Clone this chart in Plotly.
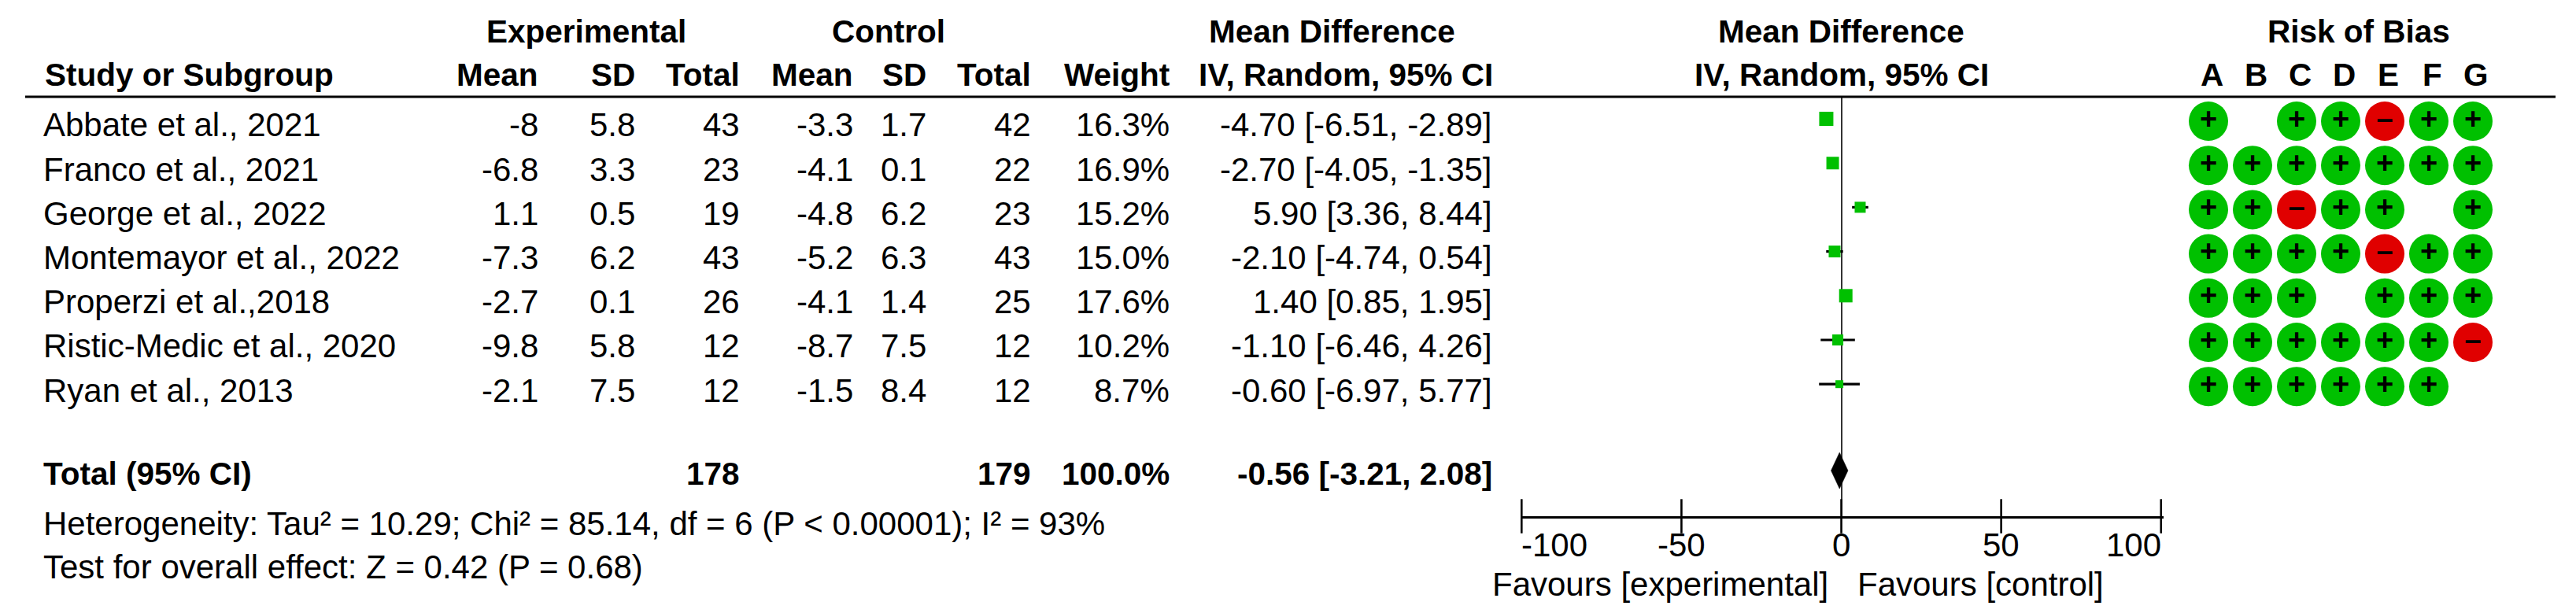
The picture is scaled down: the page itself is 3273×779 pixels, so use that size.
import plotly.graph_objects as go

# ---------- data ----------
studies = ["Abbate et al., 2021", "Franco et al., 2021", "George et al., 2022",
           "Montemayor et al., 2022", "Properzi et al.,2018",
           "Ristic-Medic et al., 2020", "Ryan et al., 2013"]
exp_mean = ["-8", "-6.8", "1.1", "-7.3", "-2.7", "-9.8", "-2.1"]
exp_sd = ["5.8", "3.3", "0.5", "6.2", "0.1", "5.8", "7.5"]
exp_total = ["43", "23", "19", "43", "26", "12", "12"]
ctl_mean = ["-3.3", "-4.1", "-4.8", "-5.2", "-4.1", "-8.7", "-1.5"]
ctl_sd = ["1.7", "0.1", "6.2", "6.3", "1.4", "7.5", "8.4"]
ctl_total = ["42", "22", "23", "43", "25", "12", "12"]
weights = ["16.3%", "16.9%", "15.2%", "15.0%", "17.6%", "10.2%", "8.7%"]
md = [-4.70, -2.70, 5.90, -2.10, 1.40, -1.10, -0.60]
ci_low = [-6.51, -4.05, 3.36, -4.74, 0.85, -6.46, -6.97]
ci_high = [-2.89, -1.35, 8.44, 0.54, 1.95, 4.26, 5.77]
total_md = -0.56
total_low = -3.21
total_high = 2.08
total_exp = "178"
total_ctl = "179"
total_weight = "100.0%"
heterogeneity = "Heterogeneity: Tau² = 10.29; Chi² = 85.14, df = 6 (P < 0.00001); I² = 93%"
overall = "Test for overall effect: Z = 0.42 (P = 0.68)"
axis_ticks = [-100, -50, 0, 50, 100]
axis_labels = ["-100", "-50", "0", "50", "100"]
bias_domains = ["A", "B", "C", "D", "E", "F", "G"]
bias = ["+ ++-++", "+++++++", "++-++ +", "++++-++", "+++ +++", "++++++-", "++++++ "]

# ---------- layout helpers ----------
W, H = 3273, 779
FONT = "Liberation Sans"
FS = 42
FS_BOLD = 40.5
GREEN, RED = "#00C000", "#E00000"
ROW0, ROWH = 151.0, 56.2
TOP, AXIS_Y = 123.0, 656.0
TOTAL_ROW = (598 - ROW0) / ROWH
square_px = [18, 16, 14, 15, 17, 14, 10]


def px(x):
    return x / W


def py(y):
    return 1 - y / H


anns = []


def text(s, x, y, anchor="left", bold=False, xref="paper", yref="paper", xshift=0):
    anns.append(dict(text=f"<b>{s}</b>" if bold else s, x=px(x) if xref == "paper" else x,
                     y=py(y) if yref == "paper" else y, xref=xref, yref=yref,
                     xanchor=anchor, yanchor="middle", showarrow=False, xshift=xshift,
                     font=dict(family=FONT, size=FS_BOLD if bold else FS, color="black"),
                     borderpad=0, borderwidth=0))


HDR1, HDR2 = 40, 95
text("Experimental", 745, HDR1, "center", True)
text("Control", 1129, HDR1, "center", True)
text("Mean Difference", 1692, HDR1, "center", True)
text("Mean Difference", 2339, HDR1, "center", True)
text("Risk of Bias", 2997, HDR1, "center", True)
text("Study or Subgroup", 57, HDR2, "left", True)
columns = [("Mean", 684, exp_mean), ("SD", 807, exp_sd), ("Total", 940, exp_total),
           ("Mean", 1084, ctl_mean), ("SD", 1177, ctl_sd), ("Total", 1310, ctl_total),
           ("Weight", 1486, weights)]
for head, right, _ in columns:
    text(head, right, HDR2, "right", True)
text("IV, Random, 95% CI", 1897, HDR2, "right", True)
text("IV, Random, 95% CI", 2340, HDR2, "center", True)

for i, name in enumerate(studies):
    y = 159 + ROWH * i
    text(name, 55, y)
    for _, right, vals in columns:
        text(vals[i], right, y, "right")
    text(f"{md[i]:.2f} [{ci_low[i]:.2f}, {ci_high[i]:.2f}]", 1896, y, "right")

TOT_Y = 602
text("Total (95% CI)", 55, TOT_Y, "left", True)
text(total_exp, 940, TOT_Y, "right", True)
text(total_ctl, 1310, TOT_Y, "right", True)
text(total_weight, 1486, TOT_Y, "right", True)
text(f"{total_md:.2f} [{total_low:.2f}, {total_high:.2f}]", 1896, TOT_Y, "right", True)
text(heterogeneity, 55, 665)
text(overall, 55, 720)
text("Favours [experimental]", 2323, 742, "right")
text("Favours [control]", 2360, 742, "left")

tick_anchor = ["left", "center", "center", "center", "right"]
for t, lab, a in zip(axis_ticks, axis_labels, tick_anchor):
    text(lab, t, 692, a, xref="x")
for letter in bias_domains:
    text(letter, letter, HDR2, "center", True, xref="x2", xshift=4)

# ---------- figure ----------
fig = go.Figure()
rows = list(range(len(studies)))

# risk of bias dots
for sym, col in (("+", GREEN), ("-", RED)):
    xs, ys = [], []
    for r, line in enumerate(bias):
        for c, v in enumerate(line):
            if v == sym:
                xs.append(bias_domains[c])
                ys.append(r)
    fig.add_trace(go.Scatter(
        x=xs, y=ys, xaxis="x2", yaxis="y2", mode="markers+text",
        marker=dict(symbol="circle", size=50, color=col, line=dict(width=0)),
        text=["+" if sym == "+" else "–"] * len(xs), textposition="middle center",
        textfont=dict(family=FONT, size=38, color="black", weight="bold"),
        cliponaxis=False, showlegend=False, hoverinfo="skip"))

# confidence intervals, drawn under the study squares
ci_x, ci_y = [], []
for lo, hi, r in zip(ci_low, ci_high, rows):
    ci_x += [lo, hi, None]
    ci_y += [r, r, None]
fig.add_trace(go.Scatter(
    x=ci_x, y=ci_y, mode="lines", line=dict(color="black", width=3.2),
    connectgaps=False, showlegend=False, hoverinfo="skip"))

# study effect sizes
fig.add_trace(go.Scatter(
    x=md, y=rows, mode="markers",
    marker=dict(symbol="square", size=square_px, color=GREEN, opacity=1, line=dict(width=0)),
    showlegend=False, hoverinfo="skip"))

# pooled diamond
fig.add_trace(go.Scatter(
    x=[total_low, total_md, total_high, total_md, total_low],
    y=[TOTAL_ROW, TOTAL_ROW - 0.41, TOTAL_ROW, TOTAL_ROW + 0.41, TOTAL_ROW],
    mode="lines", fill="toself", fillcolor="black", line=dict(color="black", width=0.5),
    showlegend=False, hoverinfo="skip"))

# axis ticks crossing the axis line
fig.add_trace(go.Scatter(
    x=axis_ticks, y=[(AXIS_Y - ROW0) / ROWH] * len(axis_ticks), mode="markers",
    marker=dict(symbol="line-ns", size=31, color="black", line=dict(width=2.6, color="black")),
    cliponaxis=False, showlegend=False, hoverinfo="skip"))

y_dom = [py(AXIS_Y), py(TOP)]
fig.update_layout(
    width=W, height=H, autosize=False,
    margin=dict(l=0, r=0, t=0, b=0),
    paper_bgcolor="white", plot_bgcolor="rgba(0,0,0,0)",
    showlegend=False,
    font=dict(family=FONT, size=FS, color="black"),
    xaxis=dict(domain=[px(1933.3), px(2749)], range=[-100, 100.8], anchor="y",
               showgrid=False, showline=True, linecolor="black", linewidth=3.2,
               ticks="", showticklabels=False, tickvals=axis_ticks,
               zeroline=True, zerolinecolor="#333333", zerolinewidth=2.4),
    yaxis=dict(domain=y_dom, range=[(AXIS_Y - ROW0) / ROWH, (TOP - ROW0) / ROWH],
               visible=False, showgrid=False, zeroline=False),
    xaxis2=dict(domain=[px(2778), px(3170)], type="category", categoryorder="array",
                categoryarray=bias_domains, range=[-0.5, 6.5], anchor="y2",
                showgrid=False, zeroline=False, showline=False, ticks="", showticklabels=False),
    yaxis2=dict(domain=y_dom, range=[(AXIS_Y - 154) / ROWH, (TOP - 154) / ROWH], anchor="x2",
                visible=False, showgrid=False, zeroline=False),
    annotations=anns,
    shapes=[dict(type="line", xref="paper", yref="paper", x0=px(32), x1=px(3247),
                 y0=py(TOP), y1=py(TOP), line=dict(color="black", width=3.2))],
)
fig.write_html("out.html", config={"displayModeBar": False},
               post_script="document.body.style.margin='0';document.body.style.overflow='hidden';")
